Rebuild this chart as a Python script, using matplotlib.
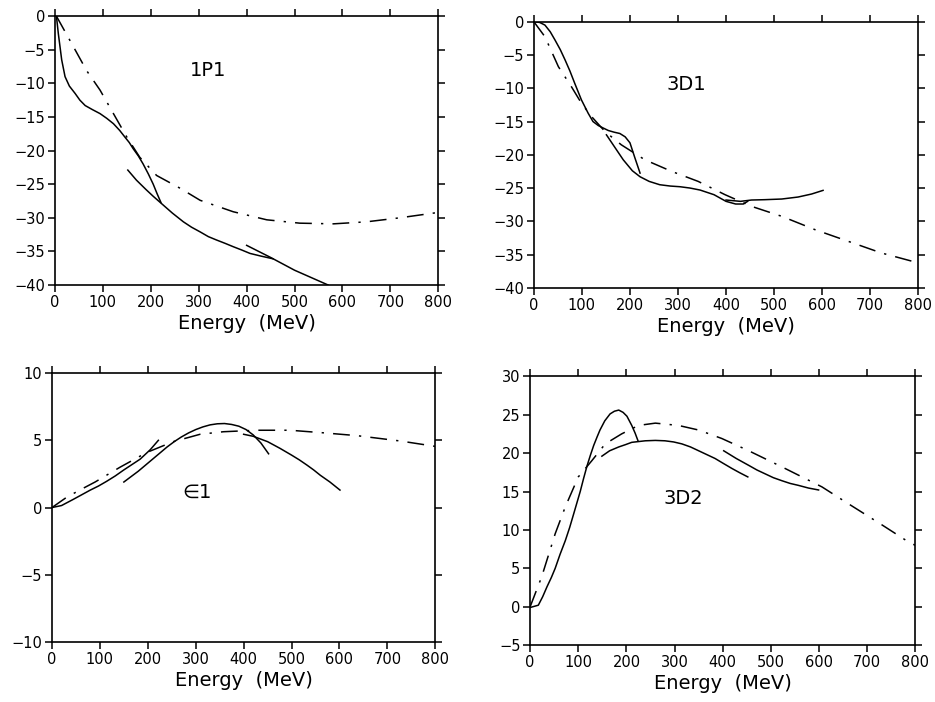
import matplotlib
matplotlib.use("Agg")
import matplotlib.pyplot as plt

# ---- 1P1 ----
p1_a_x = [3, 7, 14, 21, 30, 42, 52, 63, 78, 94, 108, 122, 135, 146, 155, 163, 174, 184, 195, 205, 213, 221]
p1_a_y = [0, -2.6, -6.5, -9.0, -10.4, -11.5, -12.5, -13.3, -13.9, -14.5, -15.2, -16.0, -17.0, -18.0,
          -18.8, -19.7, -20.8, -22.0, -23.5, -25.0, -26.4, -27.7]
p1_b_x = [152, 170, 190, 205, 221, 245, 268, 285, 303, 320, 337, 355, 372, 390, 407, 430, 455]
p1_b_y = [-22.9, -24.4, -25.8, -26.8, -27.8, -29.3, -30.6, -31.4, -32.1, -32.8, -33.3, -33.8,
          -34.3, -34.8, -35.3, -35.7, -36.1]
p1_c_x = [400, 450, 500, 570]
p1_c_y = [-34.1, -35.9, -37.8, -40.0]
p1_d_x = [3, 35, 66, 94, 122, 150, 177, 212, 261, 303, 372, 442, 511, 581, 650, 720, 800]
p1_d_y = [0, -4.1, -8.1, -11.0, -14.5, -18.0, -21.0, -23.7, -25.6, -27.4, -29.1, -30.3,
          -30.8, -30.9, -30.6, -30.0, -29.2]

# ---- 3D1 ----
p2_a_x = [2, 12, 23, 34, 44, 55, 65, 75, 85, 99, 113, 123, 134, 145, 155, 167, 179, 190, 200, 210, 221]
p2_a_y = [0, -0.1, -0.5, -1.5, -2.75, -4.2, -5.75, -7.4, -9.25, -11.75, -13.75, -15.0, -15.6,
          -16.0, -16.35, -16.6, -16.8, -17.3, -18.2, -20.4, -22.75]
p2_b_x = [151, 165, 186, 205, 221, 240, 262, 284, 304, 325, 346, 375, 400, 420, 436, 445]
p2_b_y = [-17.0, -18.5, -20.75, -22.4, -23.3, -24.0, -24.5, -24.7, -24.8, -25.0, -25.3, -26.0,
          -27.0, -27.4, -27.4, -27.0]
p2_c_x = [400, 430, 453, 480, 516, 550, 578, 602]
p2_c_y = [-26.8, -27.0, -26.8, -26.75, -26.65, -26.35, -25.9, -25.35]
p2_d_x = [0, 23, 51, 78, 99, 120, 148, 182, 231, 287, 342, 398, 453, 516, 585, 654, 723, 800]
p2_d_y = [0, -2.25, -6.75, -9.75, -12.25, -14.25, -16.5, -18.5, -20.75, -22.5, -24.0,
          -26.0, -27.75, -29.25, -31.25, -33.0, -34.75, -36.25]

# ---- epsilon 1 ----
p3_a_x = [0, 20, 44, 62, 80, 97, 114, 132, 150, 167, 184, 205, 222]
p3_a_y = [0, 0.15, 0.6, 0.95, 1.3, 1.6, 1.95, 2.35, 2.8, 3.2, 3.6, 4.3, 5.0]
p3_b_x = [150, 165, 180, 195, 210, 225, 240, 255, 270, 285, 300, 315, 330, 345, 360, 375,
          390, 405, 420, 436, 452]
p3_b_y = [1.9, 2.3, 2.7, 3.15, 3.6, 4.05, 4.5, 4.9, 5.25, 5.55, 5.8, 6.0, 6.15, 6.23, 6.25,
          6.18, 6.05, 5.8, 5.4, 4.8, 4.0]
p3_c_x = [400, 420, 450, 476, 500, 516, 532, 546, 560, 580, 601]
p3_c_y = [5.45, 5.3, 4.9, 4.4, 3.9, 3.55, 3.16, 2.8, 2.4, 1.9, 1.3]
p3_d_x = [0, 30, 58, 90, 142, 198, 253, 309, 358, 427, 497, 566, 636, 727, 800]
p3_d_y = [0, 0.75, 1.3, 1.9, 3.0, 4.1, 4.9, 5.45, 5.64, 5.75, 5.75, 5.56, 5.35, 4.95, 4.55]

# ---- 3D2 ----
p4_a_x = [0, 17, 26, 35, 44, 52, 62, 73, 82, 90, 97, 104, 111, 118, 125, 132, 139, 145, 155,
          166, 175, 184, 193, 201, 211, 218, 224]
p4_a_y = [-0.1, 0.2, 1.3, 2.6, 3.8, 5.0, 6.8, 8.6, 10.3, 12.0, 13.5, 15.0, 16.7, 18.3, 19.7,
          21.0, 22.1, 23.0, 24.2, 25.1, 25.45, 25.6, 25.3, 24.8, 23.6, 22.6, 21.6]
p4_b_x = [149, 165, 184, 198, 211, 225, 239, 260, 280, 298, 315, 333, 350, 367, 384, 400, 419, 435, 452]
p4_b_y = [19.6, 20.3, 20.8, 21.1, 21.4, 21.5, 21.6, 21.65, 21.6, 21.45, 21.2, 20.8, 20.3,
          19.8, 19.3, 18.7, 18.0, 17.45, 16.9]
p4_c_x = [402, 428, 454, 471, 488, 505, 523, 540, 557, 578, 599]
p4_c_y = [20.3, 19.3, 18.4, 17.8, 17.3, 16.8, 16.4, 16.05, 15.8, 15.45, 15.2]
p4_d_x = [0, 24, 52, 73, 100, 128, 156, 190, 225, 260, 308, 350, 398, 454, 523, 606, 661,
          727, 789, 800]
p4_d_y = [0, 3.9, 9.5, 13.0, 16.9, 19.0, 21.2, 22.5, 23.6, 23.9, 23.6, 23.0, 21.9, 20.3,
          18.2, 15.6, 13.4, 10.8, 8.3, 8.0]

panels = [
    # name, rect, ylim, yticks, label pos, solid curves, dash-dot curve
    ("1P1", [0.0588, 0.594, 0.41, 0.383], (-40, 0), range(-40, 1, 5), (320, -8.1),
     [(p1_a_x, p1_a_y), (p1_b_x, p1_b_y), (p1_c_x, p1_c_y)], (p1_d_x, p1_d_y)),
    ("3D1", [0.571, 0.590, 0.411, 0.379], (-40, 0), range(-40, 1, 5), (318, -9.5),
     [(p2_a_x, p2_a_y), (p2_b_x, p2_b_y), (p2_c_x, p2_c_y)], (p2_d_x, p2_d_y)),
    ("\u22081", [0.0556, 0.0855, 0.41, 0.383], (-10, 10), range(-10, 11, 5), (303, 1.15),
     [(p3_a_x, p3_a_y), (p3_b_x, p3_b_y), (p3_c_x, p3_c_y)], (p3_d_x, p3_d_y)),
    ("3D2", [0.567, 0.081, 0.412, 0.383], (-5, 30), range(-5, 31, 5), (319, 14.05),
     [(p4_a_x, p4_a_y), (p4_b_x, p4_b_y), (p4_c_x, p4_c_y)], (p4_d_x, p4_d_y)),
]

fig = plt.figure(figsize=(9.35, 7.02), dpi=100)

for name, rect, ylim, yticks, lpos, solids, dashdot in panels:
    ax = fig.add_axes(rect)
    for xs, ys in solids:
        ax.plot(xs, ys, color="black", lw=1.1)
    ax.plot(dashdot[0], dashdot[1], color="black", lw=1.1, dashes=(11, 6, 1.5, 6))
    ax.text(lpos[0], lpos[1], name, fontsize=14, ha="center", va="center")
    ax.set_xlim(0, 800)
    ax.set_ylim(*ylim)
    ax.set_xticks(range(0, 801, 100))
    ax.set_yticks(list(yticks))
    ax.set_yticklabels([str(t).replace("-", "\u2212") for t in yticks])
    ax.tick_params(direction="out", length=5, width=1.1, labelsize=10.5,
                   top=True, right=True, pad=2)
    ax.set_xlabel("Energy  (MeV)", fontsize=14, labelpad=3)
    for sp in ax.spines.values():
        sp.set_linewidth(1.2)

fig.savefig("out.png", dpi=100)
